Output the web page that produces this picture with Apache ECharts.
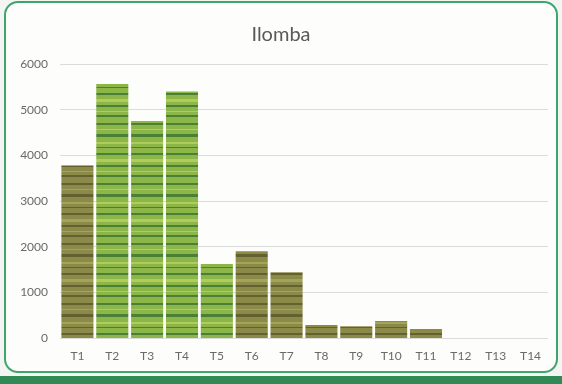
<!DOCTYPE html>
<html>
<head>
<meta charset="utf-8">
<script src="https://cdn.jsdelivr.net/npm/echarts@6/dist/echarts.min.js"></script>
<style>
  html, body { margin: 0; padding: 0; background: #f4f5f2; }
  #frame {
    position: absolute; left: 4px; top: 1px; width: 550px; height: 368px;
    border: 2px solid #3fa56a; border-radius: 14px; background: #fdfdfc;
  }
  #band { position: absolute; left: 0; top: 376px; width: 562px; height: 8px; background: #2f8a55; }
  #main { position: absolute; left: 0; top: 0; width: 562px; height: 384px; }
</style>
</head>
<body>
<div id="frame"></div>
<div id="band"></div>
<div id="main"></div>
<script>
  // 数据
  var categories = ['T1', 'T2', 'T3', 'T4', 'T5', 'T6', 'T7', 'T8', 'T9', 'T10', 'T11', 'T12', 'T13', 'T14'];
  var values = [3780, 5560, 4750, 5400, 1620, 1900, 1440, 285, 260, 370, 195, 0, 0, 0];
  // 每根柱子的纹理色调：g = 绿色, b = 褐色
  var tones = ['b', 'g', 'g', 'g', 'g', 'b', 'b', 'b', 'b', 'b', 'b', 'b', 'b', 'b'];

  // 条纹纹理 (固定的条纹，不用随机数)
  function stripes(base, dark, light) {
    var c = document.createElement('canvas');
    c.width = 8; c.height = 60;
    var ctx = c.getContext('2d');
    ctx.fillStyle = base;
    ctx.fillRect(0, 0, 8, 60);
    var rows = [[3, 2, dark], [9, 1, light], [14, 3, dark], [22, 2, light], [27, 1, dark],
                [33, 2, dark], [39, 3, light], [45, 2, dark], [51, 1, light], [55, 2, dark]];
    rows.forEach(function (r) {
      ctx.fillStyle = r[2];
      ctx.fillRect(0, r[0], 8, r[1]);
    });
    return c;
  }
  var greenTex = stripes('#8db648', '#4a8036', '#b0cc5c');
  var brownTex = stripes('#8c8a48', '#63612f', '#a4a457');

  var myChart = echarts.init(document.getElementById('main'));
  var option = {
    animation: false,
    title: {
      text: 'Ilomba',
      left: 'center',
      top: 20,
      textStyle: { fontFamily: 'Lato', fontSize: 20, fontWeight: 'normal', color: '#595959' }
    },
    grid: { left: 60, right: 14, top: 64, bottom: 46 },
    xAxis: {
      type: 'category',
      data: categories,
      axisLine: { show: false },
      axisTick: { show: false },
      axisLabel: { color: '#6a6a6a', fontFamily: 'Lato', fontSize: 12, margin: 12 }
    },
    yAxis: {
      type: 'value',
      min: 0,
      max: 6000,
      interval: 1000,
      axisLabel: {
        color: '#6a6a6a', fontFamily: 'Lato', fontSize: 12, margin: 12,
        formatter: function (v) { return String(v); }
      },
      splitLine: { lineStyle: { color: '#dcdcdc' } }
    },
    series: [
      {
        type: 'bar',
        barCategoryGap: '8%',
        data: values.map(function (v, i) {
          return {
            value: v,
            itemStyle: {
              color: { image: tones[i] === 'g' ? greenTex : brownTex, repeat: 'repeat' }
            }
          };
        })
      }
    ]
  };
  myChart.setOption(option);
</script>
</body>
</html>
